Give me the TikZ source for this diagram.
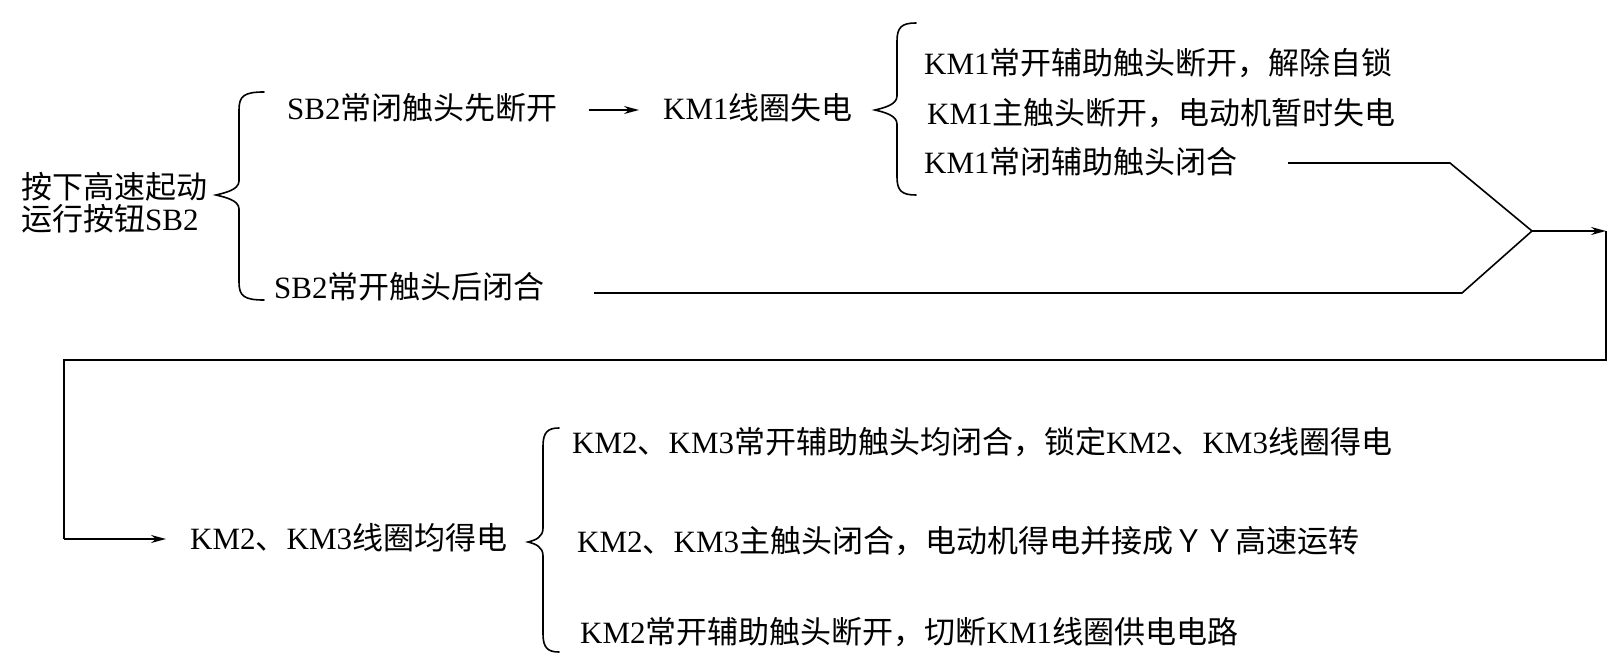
\documentclass[tikz,border=0pt]{standalone}
\usepackage{fontspec}
\setmainfont{Liberation Serif}
\newfontfamily\cjk{Noto Sans CJK SC}
\usetikzlibrary{arrows.meta}
\newcommand\zh[1]{{\cjk #1}}
% tipx, vx, endx, top, tip, bottom
\newcommand\mybrace[6]{%
\draw[line,line cap=round] (#3,#4) .. controls (#2+5,#4) and (#2,#4+4) .. (#2,#4+18) -- (#2,#5-14) .. controls (#2,#5-5) and (#1+8,#5-2) .. (#1,#5) .. controls (#1+8,#5+2) and (#2,#5+5) .. (#2,#5+14) -- (#2,#6-18) .. controls (#2,#6-4) and (#2+5,#6) .. (#3,#6);}
\begin{document}
\begin{tikzpicture}[x=1pt,y=-1pt,
  txt/.style={anchor=west,inner sep=0pt,font=\fontsize{31}{38}\selectfont,text height=24pt,text depth=4pt},
  line/.style={line width=1.6pt},
  arr/.style={line width=1.6pt,-{Stealth[length=15pt,width=8pt,inset=5pt]}}]
\useasboundingbox[fill=white] (0,0) rectangle (1620,666);

% nodes
\node[txt] (press1) at (21,188) {\zh{按下高速起动}};
\node[txt] (press2) at (21,220) {\zh{运行按钮}SB2};
\node[txt] (sb2a) at (287,110) {SB2\zh{常闭触头先断开}};
\node[txt] (sb2b) at (274,288) {SB2\zh{常开触头后闭合}};
\node[txt] (km1) at (663,110) {KM1\zh{线圈失电}};
\node[txt] (k1) at (924,65) {KM1\zh{常开辅助触头断开，解除自锁}};
\node[txt] (k2) at (927,115) {KM1\zh{主触头断开，电动机暂时失电}};
\node[txt] (k3) at (924,163) {KM1\zh{常闭辅助触头闭合}};
\node[txt] (km23) at (190,539) {KM2\zh{、}KM3\zh{线圈均得电}};
\node[txt] (m1) at (572,443) {KM2\zh{、}KM3\zh{常开辅助触头均闭合，锁定}KM2\zh{、}KM3\zh{线圈得电}};
\node[txt] (m2) at (577,542) {KM2\zh{、}KM3\zh{主触头闭合，电动机得电并接成ＹＹ高速运转}};
\node[txt] (m3) at (580,633) {KM2\zh{常开辅助触头断开，切断}KM1\zh{线圈供电电路}};

% braces
\mybrace{216}{239}{264}{92}{195}{300}
\mybrace{875}{897}{916}{23}{110}{195}
\mybrace{528}{543}{559}{428}{542}{652}

% connectors
\coordinate (s1) at (1288,163);
\coordinate (c1) at (1450,163);
\coordinate (j) at (1532,231);
\coordinate (s2) at (594,293);
\coordinate (c2) at (1462,293);
\coordinate (r) at (1606,231);
\coordinate (rb) at (1606,360);
\coordinate (lb) at (64,360);
\coordinate (lt) at (64,539);

\draw[arr] ([xshift=31pt]sb2a.east) -- ([xshift=-24pt]km1.west);
\draw[line] (s1) -- (c1) -- (j);
\draw[line] (s2) -- (c2) -- (j);
\draw[arr] (j) -- (r);
\draw[line] (r) -- (rb) -- (lb) -- (lt);
\draw[arr] (lt) -- ([xshift=-24pt]km23.west);
\end{tikzpicture}
\end{document}
